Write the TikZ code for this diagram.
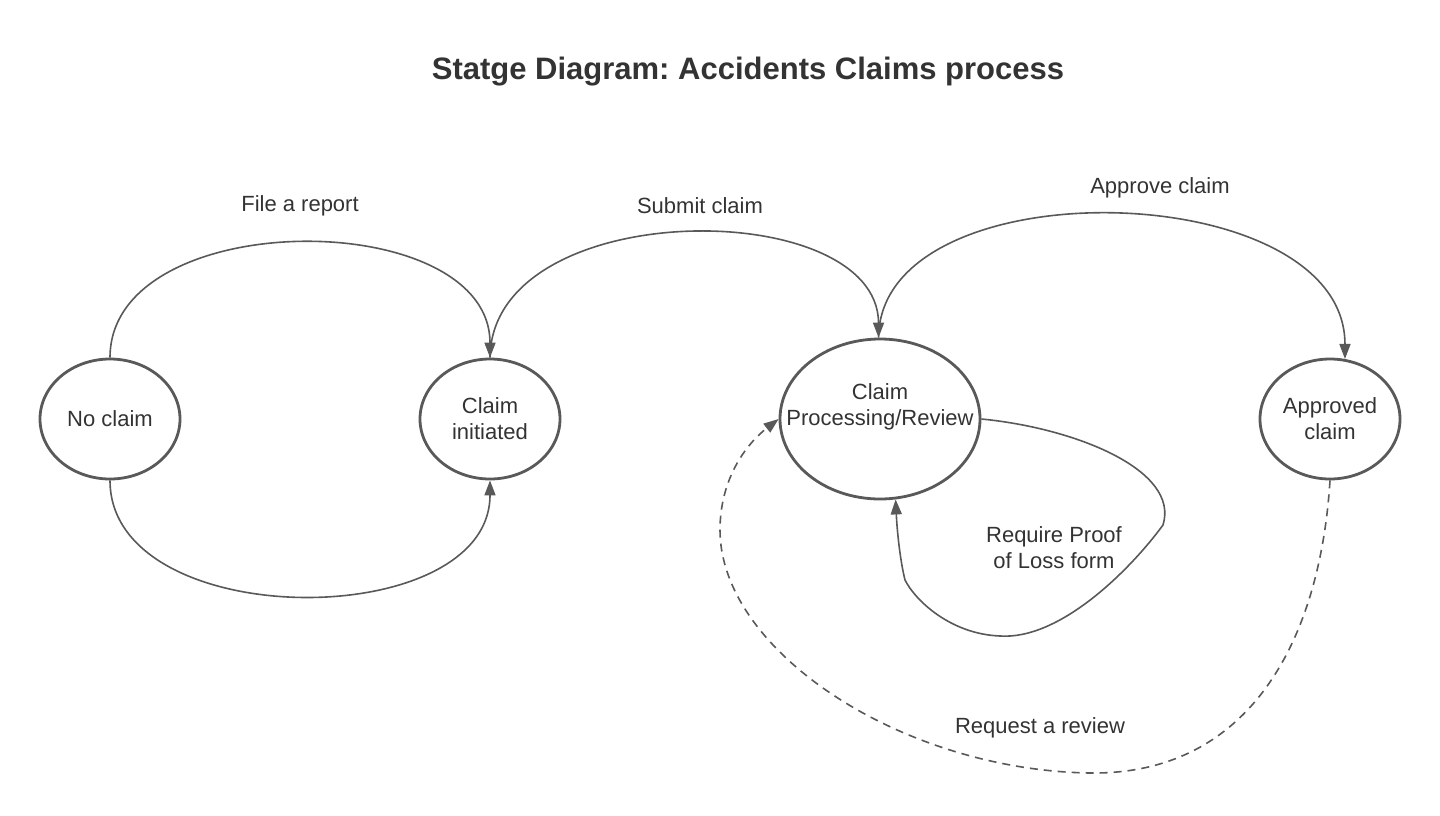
\documentclass[tikz,border=0pt]{standalone}
\usepackage{fontspec}
\setmainfont{Liberation Sans}
\usetikzlibrary{shapes.geometric,arrows.meta}
\definecolor{linegray}{HTML}{595959}
\definecolor{textgray}{HTML}{333333}
\frenchspacing
\begin{document}
\begin{tikzpicture}[x=0.5pt, y=-0.5pt, >={Triangle[length=7.5pt,width=5.5pt]},
		every node/.style={font=\fontsize{11}{13}\selectfont, text=textgray},
		state/.style={ellipse, draw=linegray, line width=1.4pt, inner sep=0pt, align=center, minimum width=70pt, minimum height=60pt},
		trans/.style={->, draw=linegray, line width=0.8pt},
		lbl/.style={align=center}]
		\useasboundingbox (0,0) rectangle (1440,815);
		\node[font=\fontsize{15.5}{18}\selectfont\bfseries] (title) at (748,72) {Statge Diagram: Accidents Claims process};
		% states
		\node[state] (nc) at (110,419) {No claim};
		\node[state] (ci) at (490,419) {Claim\\initiated};
		\node[state, minimum width=100pt, minimum height=80pt] (pr) at (880,419) {};
		\node[lbl] (prtext) at (880,407) {Claim\\Processing/Review};
		\node[state] (ap) at (1330,419) {Approved\\claim};
		% transitions
		\draw[trans] (nc.north) .. controls (110,205) and (490,205) .. (ci.north);
		\draw[trans] (nc.south) .. controls (110,634) and (490,634) .. (ci.south);
		\draw[trans] (ci.north) .. controls (492,195) and (878,195) .. (pr.91);
		\draw[trans] (pr.91) .. controls (880,165) and (1345,175) .. (ap.76);
		\draw[trans] (pr.east) .. controls (1075,428) and (1180,470) .. (1163,525) .. controls (1130,570) and (1060,640) .. (1000,636) .. controls (950,634) and (915,600) .. (905,580) .. controls (900,560) and (897,530) .. (pr.-79);
		\draw[trans, dash pattern=on 4pt off 3pt] (ap.south) .. controls (1320,640) and (1250,775) .. (1090,773) .. controls (900,770) and (720,650) .. (720,530) .. controls (720,480) and (745,445) .. (pr.west);
		% labels
		\node[lbl] (l1) at (300,206) {File a report};
		\node[lbl] (l2) at (700,206) {Submit claim};
		\node[lbl] (l3) at (1160,188) {Approve claim};
		\node[lbl] (l4) at (1054,548) {Require Proof\\of Loss form};
		\node[lbl] (l5) at (1040,728) {Request a review};
\end{tikzpicture}
\end{document}
